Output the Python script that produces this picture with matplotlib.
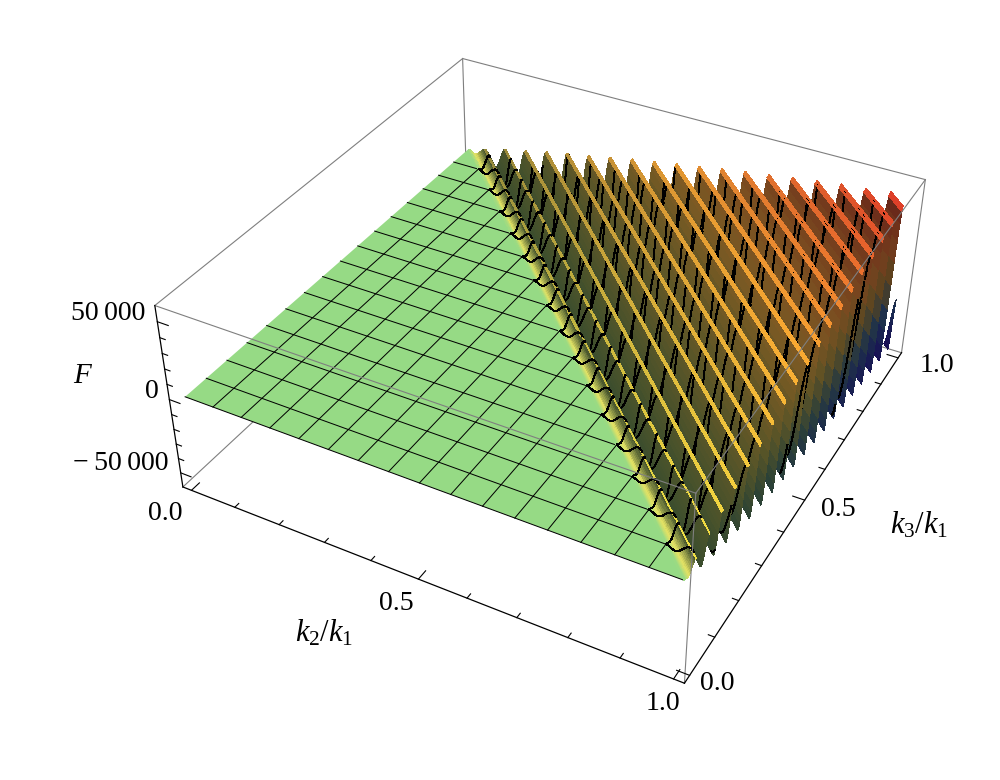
import numpy as np
import matplotlib
matplotlib.use("Agg")
from matplotlib import pyplot as plt
from mpl_toolkits.mplot3d.art3d import Poly3DCollection

plt.rcParams['font.family'] = ['Liberation Serif', 'DejaVu Serif']
plt.rcParams['mathtext.fontset'] = 'custom'
plt.rcParams['mathtext.rm'] = 'Liberation Serif'
plt.rcParams['mathtext.it'] = 'Liberation Serif:italic'

# =============================================================================
# Values (k = k2/k1 + k3/k1 - 1, F in plot units):
# =============================================================================

crest_k = [.043, .094, .145, .196, .247, .298, .349, .400, .451, .502,
           .553, .604, .655, .706, .757, .808, .859, .910, .961]
crest_F = [3300, 7500, 10500, 14000, 17000, 19500, 22500, 25500, 28000, 30500,
           33000, 35500, 38000, 40000, 42500, 44500, 46500, 48000, 50000]
trough_k = [.0175, .0685, .1195, .1705, .2215, .2725, .3235, .3745, .4255, .4765,
            .5275, .5785, .6295, .6805, .7315, .7825, .8335, .8845, .9355, .9865]
trough_F = [-2000, -7500, -12500, -16000, -20000, -24000, -26500, -29000, -31500, -34000,
            -36500, -39000, -41000, -43000, -45000, -47000, -49000, -50500, -52000, -53000]

k_ticks = [0, .1, .2, .3, .4, .5, .6, .7, .8, .9, 1]
k_major = [0, .5, 1]
F_ticks = [-50000, -40000, -30000, -20000, -10000, 0, 10000, 20000, 30000, 40000, 50000]
F_major = [-50000, 0, 50000]
mesh_k = [i / 16 for i in range(1, 16)]

# colours of the steep faces, rows by F, columns by k
palette_F = [-50000, -25000, 0, 25000, 50000]
palette_k = [0, .5, 1]
slope_rgb = np.array([[[30, 60, 60], [20, 40, 85], [25, 15, 85]],
                      [[40, 68, 50], [45, 65, 55], [25, 45, 80]],
                      [[62, 80, 45], [95, 85, 38], [85, 65, 30]],
                      [[85, 88, 42], [125, 90, 35], [115, 55, 28]],
                      [[90, 88, 42], [130, 75, 30], [100, 32, 25]]]) / 255
# colours of the crest line, rows: far end (k3 = 1), near end (k2 = 1)
crest_rgb = np.array([[[140, 135, 60], [225, 150, 50], [220, 55, 40]],
                      [[240, 230, 70], [250, 170, 50], [220, 55, 40]]]) / 255
FLAT_COLOR = (150 / 255, 218 / 255, 133 / 255)
LIME_COLOR = np.array([225, 225, 100]) / 255
BOX_GRAY = "#7f7f7f"

# =============================================================================
# Axes, camera fitted to the box corners:
# =============================================================================

S_PX = 781.6
CX, CY = 548.85, 341.66

fig = plt.figure(figsize=(10, 7.8), dpi=100)
ax = fig.add_axes([(CX - S_PX / 2) / 1000, (780 - CY - S_PX / 2) / 780, S_PX / 1000, S_PX / 780],
                  projection='3d', computed_zorder=False)
ax.set_xlim(-.02, 1.02, view_margin=0)
ax.set_ylim(-.02, 1.02, view_margin=0)
ax.set_zlim(-60000, 60000, view_margin=0)
ax.view_init(elev=36.022, azim=-61.655, roll=-.136)
ax.set_proj_type('persp', focal_length=.4387)
ax.set_box_aspect((1, 1.0064, .4009))
ax.set_axis_off()
ax.apply_aspect()

# camera position in data space: the point every ray goes through
M = ax.get_proj()
eye = np.linalg.svd(M[[0, 1, 3]])[2][-1]
eye = eye[:3] / eye[3]


def line3(xs, ys, zs, color="k", lw=.72, zorder=5, aa=True):
    ln = ax.plot(xs, ys, zs, color=color, lw=lw, zorder=zorder, antialiased=aa)[0]
    ln.set_clip_on(False)
    return ln


# =============================================================================
# Ridge profile along k, sampled between the crests and troughs:
# =============================================================================

knot_k = [0.0]
knot_F = [0.0]
knot_q = [0.0]
for i in range(len(crest_k)):
    knot_k += [trough_k[i], crest_k[i]]
    knot_F += [trough_F[i], crest_F[i]]
    knot_q += [0.0, 1.0]
knot_k += [trough_k[-1], 1.0]
knot_F += [trough_F[-1], -20000.0]
knot_q += [0.0, 0.4]

NSUB = 10
prof_k, prof_F, prof_q = [knot_k[0]], [knot_F[0]], [knot_q[0]]
for a in range(len(knot_k) - 1):
    t = np.arange(1, NSUB + 1) / NSUB
    ease = (1 - np.cos(np.pi * t)) / 2
    prof_k += list(knot_k[a] + (knot_k[a + 1] - knot_k[a]) * t)
    prof_F += list(knot_F[a] + (knot_F[a + 1] - knot_F[a]) * ease)
    prof_q += list(knot_q[a] + (knot_q[a + 1] - knot_q[a]) * ease)
prof_k, prof_F, prof_q = np.array(prof_k), np.array(prof_F), np.array(prof_q)

# =============================================================================
# Surface cells, k along the profile and u along each ridge:
# =============================================================================

NU = 60
u = np.linspace(0, 1, NU + 1)
K, U = np.meshgrid(prof_k, u, indexing='ij')
X = K + U * (1 - K)
Y = 1 - U * (1 - K)
Z = np.repeat(prof_F[:, None], NU + 1, axis=1)
cells = np.stack([np.stack([X[:-1, :-1], Y[:-1, :-1], Z[:-1, :-1]], -1),
                  np.stack([X[1:, :-1], Y[1:, :-1], Z[1:, :-1]], -1),
                  np.stack([X[1:, 1:], Y[1:, 1:], Z[1:, 1:]], -1),
                  np.stack([X[:-1, 1:], Y[:-1, 1:], Z[:-1, 1:]], -1)], axis=2).reshape(-1, 4, 3)


def table_lookup(table, row, col):
    r0 = np.clip(np.floor(row).astype(int), 0, table.shape[0] - 2)
    c0 = np.clip(np.floor(col).astype(int), 0, table.shape[1] - 2)
    fr = (row - r0)[..., None]
    fc = (col - c0)[..., None]
    return (table[r0, c0] * (1 - fr) * (1 - fc) + table[r0 + 1, c0] * fr * (1 - fc)
            + table[r0, c0 + 1] * (1 - fr) * fc + table[r0 + 1, c0 + 1] * fr * fc)


mid_k = ((prof_k[:-1] + prof_k[1:]) / 2)[:, None] * np.ones(NU)
mid_F = ((prof_F[:-1] + prof_F[1:]) / 2)[:, None] * np.ones(NU)
mid_q = ((prof_q[:-1] + prof_q[1:]) / 2)[:, None] * np.ones(NU)
mid_u = np.ones(len(prof_k) - 1)[:, None] * (u[:-1] + u[1:]) / 2

col_k = np.interp(mid_k, palette_k, range(3))
rgb = table_lookup(slope_rgb, np.interp(mid_F, palette_F, range(5)), col_k)
crest_col = table_lookup(crest_rgb, mid_u, col_k)
w_crest = np.clip((mid_q - .97) / .015, 0, 1)[..., None]
rgb = rgb * (1 - w_crest) + crest_col * w_crest
w_lime = np.clip((.04 - mid_k) / .02, 0, 1)[..., None]
rgb = rgb * (1 - w_lime) + LIME_COLOR * w_lime
w_flat = np.clip((.018 - mid_k) / .018, 0, 1)[..., None]
rgb = rgb * (1 - w_flat) + np.array(FLAT_COLOR) * w_flat
cell_fc = np.concatenate([rgb.reshape(-1, 3), np.ones((rgb.size // 3, 1))], axis=1)

# cells that face away from the camera are never seen, and only upset the depth sort
ridge_dir = np.array([1.0, -1.0, 0.0])
cell_n = np.cross(cells[:, 3] - cells[:, 0], cells[:, 1] - cells[:, 0])
facing = np.sum(cell_n * (eye - cells[:, 0]), axis=1) > 0
cells = cells[facing]
cell_fc = cell_fc[facing]
cell_ec = np.zeros_like(cell_fc)

# =============================================================================
# Mesh lines on the ridges go in the same collection so that they get hidden:
# =============================================================================

segs = []
for c in mesh_k:
    keep = prof_k <= c + 1e-9
    ks = prof_k[keep]
    fs = prof_F[keep]
    for xs, ys in ((np.full(ks.shape, c), 1 + ks - c), (1 + ks - c, np.full(ks.shape, c))):
        pts = np.column_stack([xs, ys, fs])
        seg_n = np.cross(ridge_dir, pts[1:] - pts[:-1])
        front = np.sum(seg_n * (eye - pts[:-1]), axis=1) > 0
        pts = pts + .006 * (eye - pts)
        segs.append(np.stack([pts[:-1], pts[1:], pts[1:], pts[:-1]], axis=1)[front])
segs = np.concatenate(segs)
seg_fc = np.tile([0, 0, 0, 0.0], (len(segs), 1))
seg_ec = np.tile([0, 0, 0, 1.0], (len(segs), 1))

# bright lines along the crests, thin cells alone come out broken when not antialiased
crest_idx = np.flatnonzero(prof_q == 1.0)[2:]
crest_segs = []
crest_ec = []
for i in np.concatenate([crest_idx, crest_idx - 1]):
    pts = np.column_stack([X[i], Y[i], Z[i]])
    pts = pts + .02 * (eye - pts)
    crest_segs.append(np.stack([pts[:-1], pts[1:], pts[1:], pts[:-1]], axis=1))
    ku = table_lookup(crest_rgb, (u[:-1] + u[1:]) / 2, np.full(NU, np.interp(prof_k[i], palette_k, range(3))))
    crest_ec.append(np.column_stack([ku, np.ones(NU)]))
crest_segs = np.concatenate(crest_segs)
crest_ec = np.concatenate(crest_ec)
crest_fc = np.zeros_like(crest_ec)

# =============================================================================
# Box, back edges first:
# =============================================================================

LO, HI = -.02, 1.02
FB, FT = -60000, 60000

line3([LO, LO], [HI, HI], [FB, FT], BOX_GRAY, .8, 1)
line3([LO, LO], [LO, HI], [FB, FB], BOX_GRAY, .8, 1)
line3([LO, HI], [HI, HI], [FB, FB], BOX_GRAY, .8, 1)
line3([HI, HI], [HI, HI], [FB, FT], BOX_GRAY, .8, 1)

# flat part of the surface with its mesh
flat = Poly3DCollection([[(0, 0, 0), (1, 0, 0), (0, 1, 0)]], facecolors=[FLAT_COLOR],
                        edgecolors='none', zorder=2)
ax.add_collection3d(flat, autolim=False)
flat.set_clip_on(False)
for c in mesh_k:
    line3([c, c], [0, 1 - c], [0, 0], "k", .72, 3)
    line3([0, 1 - c], [c, c], [0, 0], "k", .72, 3)
line3([0, 1], [0, 0], [0, 0], "k", .72, 3)

surf = Poly3DCollection(np.concatenate([cells, crest_segs, segs]),
                        facecolors=np.concatenate([cell_fc, crest_fc, seg_fc]),
                        edgecolors=np.concatenate([cell_ec, crest_ec, seg_ec]),
                        linewidths=.72, antialiaseds=False, zorder=4)
ax.add_collection3d(surf, autolim=False)
surf.set_clip_on(False)

# front and top edges come over the surface
line3([LO, HI], [LO, LO], [FT, FT], BOX_GRAY, .8, 6)
line3([HI, HI], [LO, HI], [FT, FT], BOX_GRAY, .8, 6)
line3([LO, HI], [HI, HI], [FT, FT], BOX_GRAY, .8, 6)
line3([LO, LO], [LO, HI], [FT, FT], BOX_GRAY, .8, 6)
line3([HI, HI], [LO, LO], [FB, FT], BOX_GRAY, .8, 6)

# black axes with ticks
line3([LO, HI], [LO, LO], [FB, FB], "k", .9, 7)
line3([HI, HI], [LO, HI], [FB, FB], "k", .9, 7)
line3([LO, LO], [LO, LO], [FB, FT], "k", .9, 7)
for t in k_ticks:
    d = .024 if t in k_major else .012
    line3([t, t], [LO, LO + d], [FB, FB], "k", .8, 7)
    line3([HI, HI - d], [t, t], [FB, FB], "k", .8, 7)
for t in F_ticks:
    d = .024 if t in F_major else .012
    line3([LO, LO + d], [LO, LO], [t, t], "k", .8, 7)

# =============================================================================
# Labels:
# =============================================================================


def label(px, py, txt, size=20):
    fig.text(px / 1000, 1 - py / 780, txt, fontsize=size, ha='center', va='center')


label(108, 313, "50\u2009000")
label(152, 392, "0")
label(121, 463, "\u2212\u200950\u2009000")
label(83, 376, "$F$", 21)
label(165, 513, "0.0")
label(396, 603, "0.5")
label(663, 703, "1.0")
label(324, 633, "$k_2/k_1$", 22)
label(717, 684, "0.0")
label(838, 510, "0.5")
label(937, 366, "1.0")
label(919, 525, "$k_3/k_1$", 22)

fig.savefig("out.png", dpi=100)
